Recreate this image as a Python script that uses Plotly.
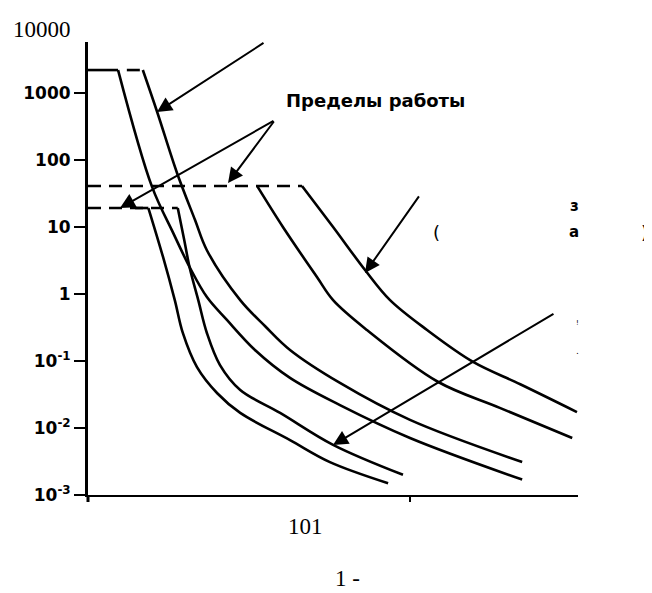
import math
import plotly.graph_objects as go

# ---- data (current multiples, time in s) ----
current_A = [1.24, 1.58, 1.84, 2.07, 2.34, 2.70, 3.30, 4.24, 6.06, 10.0, 22.3]
time_A = [2200, 40, 8.1, 2.5, 0.90, 0.41, 0.146, 0.056, 0.022, 0.0071, 0.0017]
current_A_flat = [1.0, 1.24]
time_A_flat = [2200, 2200]

current_B = [1.48, 1.64, 1.89, 2.15, 2.34, 2.97, 3.55, 4.24, 6.06, 10.0, 22.3]
time_B = [2200, 520, 64, 12.7, 4.5, 0.81, 0.33, 0.146, 0.047, 0.0132, 0.0031]
current_B_flat = [1.32, 1.48]
time_B_flat = [2200, 2200]

current_C = [3.35, 4.03, 5.14, 5.77, 7.35, 12.2, 19.0, 31.9]
time_C = [41, 10, 1.79, 0.81, 0.29, 0.049, 0.020, 0.0071]

current_D = [4.62, 5.77, 7.25, 8.67, 11.3, 15.7, 22.0, 33.0]
time_D = [41, 10, 2.28, 0.81, 0.29, 0.097, 0.045, 0.0173]

current_E = [1.54, 1.71, 1.86, 1.97, 2.18, 2.52, 2.97, 4.24, 5.64, 8.55]
time_E = [19.2, 3.57, 0.81, 0.262, 0.081, 0.033, 0.0168, 0.0066, 0.0031, 0.0015]
current_E_flat = [1.40, 1.54]
time_E_flat = [19.2, 19.2]

current_F = [1.90, 1.99, 2.07, 2.20, 2.34, 2.57, 2.97, 3.95, 5.77, 9.51]
time_F = [19.2, 6.4, 2.44, 0.81, 0.262, 0.087, 0.037, 0.0168, 0.0056, 0.0020]

# operating limits (dashed)
limit_hi_current = [1.0, 4.62]
limit_hi_time = [41, 41]
limit_lo_current = [1.0, 1.90]
limit_lo_time = [19.2, 19.2]

y_tick_vals = [0.001, 0.01, 0.1, 1, 10, 100, 1000]
y_tick_text = ["10<sup>-3</sup>", "10<sup>-2</sup>", "10<sup>-1</sup>", "1", "10", "100", "1000"]
x_tick_vals = [10]

# arrows: (tail current, tail time, tip current, tip time)
arrow_tails = [(3.546, 5770), (3.808, 395), (3.808, 395), (10.74, 30.1), (28.2, 0.52)]
arrow_tips = [(1.638, 520), (2.722, 45.4), (1.257, 19.2), (7.248, 2.06), (5.765, 0.00557)]

# page body has an 8px margin; figure is sized to fit the window
OFF = 8
W, H = 652 - OFF, 593 - OFF
L, T = 88 - OFF, 42 - OFF
PW, PH = 490, 453
R, B = W - L - PW, H - T - PH


def px(x):
    return (x - OFF - L) / PW


def py(y):
    return (T + PH - (y - OFF)) / PH


fig = go.Figure()

solid = dict(color="black", width=2.6)
dashed = dict(color="black", width=2.6, dash="13px,8px")

for cx, ty, st, shp in [
    (limit_hi_current, limit_hi_time, dashed, "linear"),
    (limit_lo_current, limit_lo_time, dashed, "linear"),
    (current_B_flat, time_B_flat, dashed, "linear"),
    (current_A_flat, time_A_flat, solid, "linear"),
    (current_E_flat, time_E_flat, solid, "linear"),
    (current_A, time_A, solid, "spline"),
    (current_B, time_B, solid, "spline"),
    (current_C, time_C, solid, "spline"),
    (current_D, time_D, solid, "spline"),
    (current_E, time_E, solid, "spline"),
    (current_F, time_F, solid, "spline"),
]:
    line = dict(st)
    line["shape"] = shp
    if shp == "spline":
        line["smoothing"] = 1.0
    fig.add_trace(go.Scatter(x=cx, y=ty, mode="lines", line=line,
                             hoverinfo="skip", cliponaxis=False))

annotations = []
for (tc, tt), (hc, ht) in zip(arrow_tails, arrow_tips):
    annotations.append(dict(
        x=math.log10(hc), y=math.log10(ht), xref="x", yref="y",
        ax=math.log10(tc), ay=math.log10(tt), axref="x", ayref="y",
        text="", showarrow=True, arrowhead=2, arrowsize=1.5,
        arrowwidth=2, arrowcolor="black", standoff=0, startstandoff=0))

serif = dict(family="Liberation Serif, Times New Roman, serif", size=23, color="black")
sans_b = dict(family="DejaVu Sans", size=17, color="black", weight="bold")


def txt(t, x, y, font, xa="center"):
    annotations.append(dict(text=t, x=px(x), y=py(y), xref="paper", yref="paper",
                            xanchor=xa, yanchor="middle", showarrow=False, font=font))


txt("10000", 42, 29, serif)
txt("101", 305, 526, serif)
txt("1 -", 347, 578, serif)
txt("Пределы работы", 284, 100, dict(family="DejaVu Sans", size=18, color="black", weight="bold"), xa="left")
txt("(", 436, 232, dict(family="DejaVu Sans", size=18, color="black"))
txt(")", 644, 232, dict(family="DejaVu Sans", size=18, color="black"))
txt("з", 574, 206, dict(family="DejaVu Sans", size=15, color="black", weight="bold"))
txt("а", 574, 232, dict(family="DejaVu Sans", size=15, color="black", weight="bold"))
txt("!", 577, 323, dict(family="DejaVu Sans", size=7, color="black"))
txt(".", 577, 351, dict(family="DejaVu Sans", size=9, color="black"))

fig.update_layout(
    width=W, height=H, autosize=False,
    margin=dict(l=L, r=R, t=T, b=B),
    paper_bgcolor="white", plot_bgcolor="white",
    showlegend=False,
    annotations=annotations,
    shapes=[dict(type="line", xref="paper", yref="paper", x0=0, x1=0,
                 y0=0, y1=-7 / PH, line=dict(color="black", width=3))],
    xaxis=dict(type="log", range=[0, 1.5217], showline=True, linecolor="black",
               linewidth=2, showgrid=False, zeroline=False, tickvals=x_tick_vals,
               ticks="outside", ticklen=5, tickwidth=2, tickcolor="black",
               showticklabels=False),
    yaxis=dict(type="log", range=[-3, 3.761], showline=True, linecolor="black",
               linewidth=3, showgrid=False, zeroline=False,
               tickvals=y_tick_vals, ticktext=y_tick_text,
               ticks="outside", ticklen=11, tickwidth=2, tickcolor="black",
               tickfont=sans_b),
)

fig.write_html("out.html")
